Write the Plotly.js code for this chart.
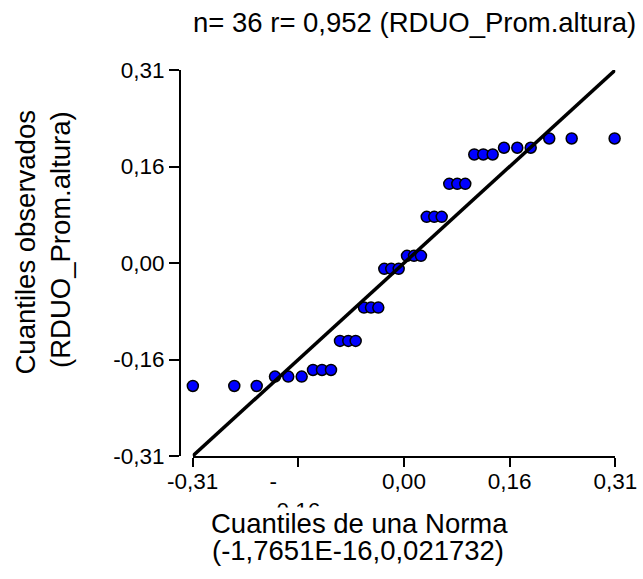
<!DOCTYPE html>
<html>
<head>
<meta charset="utf-8">
<script src="https://cdn.plot.ly/plotly-3.0.1.min.js"></script>
<style>html,body{margin:0;padding:0;background:#fff;}</style>
</head>
<body>
<div id="chart" style="width:643px;height:579px;"></div>
<script>
// Theoretical normal quantiles (x) and observed quantiles (y)
const normalQuantiles = [-0.3098,-0.2490,-0.2161,-0.1893,-0.1698,-0.1501,-0.1335,-0.1203,-0.1071,-0.0939,-0.0817,-0.0709,-0.0587,-0.0484,-0.0377,-0.0289,-0.0187,-0.0078,0.0044,0.0147,0.0249,0.0333,0.0444,0.0553,0.0664,0.0782,0.0899,0.1031,0.1163,0.1301,0.1467,0.1662,0.1859,0.2131,0.2460,0.3090];
const observedQuantiles = [-0.1975,-0.1975,-0.1975,-0.1825,-0.1825,-0.1825,-0.1718,-0.1718,-0.1718,-0.1251,-0.1251,-0.1251,-0.0716,-0.0716,-0.0716,-0.0094,-0.0094,-0.0094,0.0115,0.0115,0.0115,0.0742,0.0742,0.0742,0.1272,0.1272,0.1272,0.1743,0.1743,0.1743,0.1851,0.1851,0.1851,0.2000,0.2000,0.2000];
const refLineX = [-0.31, 0.31];
const refLineY = [-0.31, 0.31];
const tickVals = [-0.31, -0.155, 0, 0.155, 0.31];
const xTickText = ["-0,31", "-\u00a0\u00a0\u00a0\u00a0\u00a0\u00a0\u00a0\u00a0<br>0,16", "0,00", "0,16", "0,31"];
const yTickText = ["-0,31", "-0,16", "0,00", "0,16", "0,31"];
const titleText = "n= 36 r= 0,952 (RDUO_Prom.altura)";
const xTitleLines = ["Cuantiles de una Norma", "(-1,7651E-16,0,021732)"];
const yTitleLines = ["Cuantiles observados", "(RDUO_Prom.altura)"];

const W = 643, H = 579;
const px = v => v / W;
const py = v => 1 - v / H;
const FONT = "Liberation Sans, Arial, sans-serif";

const traces = [
  {
    x: normalQuantiles, y: observedQuantiles, type: 'scatter', mode: 'markers',
    marker: {color: '#0000FF', size: 11, line: {color: '#000000', width: 1.5}},
    cliponaxis: false, showlegend: false, hoverinfo: 'skip'
  },
  {
    x: refLineX, y: refLineY, type: 'scatter', mode: 'lines',
    line: {color: '#000000', width: 3.5}, cliponaxis: false, showlegend: false, hoverinfo: 'skip'
  }
];

const layout = {
  width: W, height: H,
  margin: {l: 0, r: 0, t: 0, b: 0},
  paper_bgcolor: '#ffffff', plot_bgcolor: '#ffffff',
  font: {family: FONT, color: '#000000'},
  showlegend: false,
  xaxis: {
    domain: [px(192.7), px(615.3)],
    range: [-0.31, 0.31], autorange: false,
    tickmode: 'array', tickvals: tickVals, ticktext: xTickText,
    ticks: 'outside', ticklen: 9, tickwidth: 2, tickcolor: '#000',
    ticklabelstandoff: -5,
    showline: true, linecolor: '#000', linewidth: 2,
    showgrid: false, zeroline: false, automargin: false,
    tickfont: {family: FONT, size: 22.5, color: '#000'},
    anchor: 'y', fixedrange: true
  },
  yaxis: {
    domain: [py(456), py(70)],
    range: [-0.31, 0.31], autorange: false,
    tickmode: 'array', tickvals: tickVals, ticktext: yTickText,
    ticks: 'outside', ticklen: 10, tickwidth: 2, tickcolor: '#000',
    showline: true, linecolor: '#000', linewidth: 2,
    showgrid: false, zeroline: false, automargin: false,
    tickfont: {family: FONT, size: 22.5, color: '#000'},
    anchor: 'free', position: px(180), fixedrange: true
  },
  annotations: [
    {text: titleText, xref: 'paper', yref: 'paper', x: px(414), y: py(23), xanchor: 'center', yanchor: 'middle', showarrow: false, font: {family: FONT, size: 27.5, color: '#000'}},
    {text: xTitleLines[0], xref: 'paper', yref: 'paper', x: px(359), y: py(523), xanchor: 'center', yanchor: 'middle', showarrow: false, bgcolor: '#ffffff', borderpad: 0, font: {family: FONT, size: 27.5, color: '#000'}},
    {text: xTitleLines[1], xref: 'paper', yref: 'paper', x: px(358), y: py(550), xanchor: 'center', yanchor: 'middle', showarrow: false, font: {family: FONT, size: 27.5, color: '#000'}},
    {text: yTitleLines[0], xref: 'paper', yref: 'paper', x: px(25.5), y: py(243), xanchor: 'center', yanchor: 'middle', textangle: -90, showarrow: false, font: {family: FONT, size: 27.5, color: '#000'}},
    {text: yTitleLines[1], xref: 'paper', yref: 'paper', x: px(61), y: py(240), xanchor: 'center', yanchor: 'middle', textangle: -90, showarrow: false, font: {family: FONT, size: 27.5, color: '#000'}}
  ]
};

Plotly.newPlot('chart', traces, layout, {displayModeBar: false, staticPlot: true});
</script>
</body>
</html>
